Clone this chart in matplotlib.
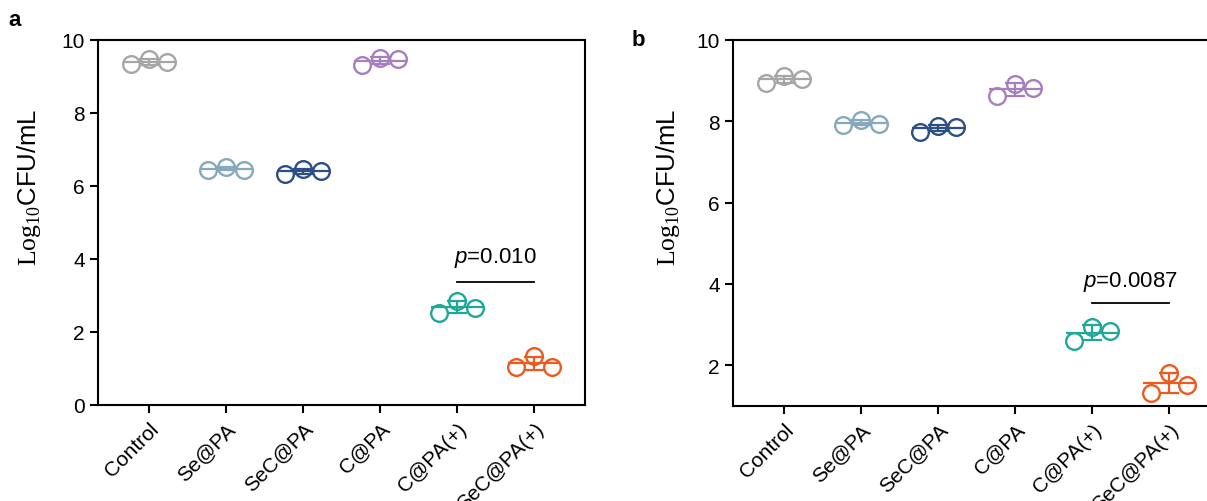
import numpy as np
import matplotlib
matplotlib.use("Agg")
from matplotlib import pyplot as plt
from matplotlib import transforms

plt.rcParams["font.family"] = ["Liberation Sans", "DejaVu Sans"]
plt.rcParams["mathtext.fontset"] = "custom"
plt.rcParams["mathtext.rm"] = "Liberation Serif"
plt.rcParams["mathtext.it"] = "Liberation Sans:italic"

groups = ["Control", "Se@PA", "SeC@PA", "C@PA", "C@PA(+)", "SeC@PA(+)"]
colors = ["#a6a6a6", "#86a9bb", "#2c4f85", "#a67fbf", "#1fa79a", "#ee5a1e"]

# replicate values (Log10 CFU/mL), three per group
panel_a = [
    [9.33, 9.48, 9.40],
    [6.45, 6.52, 6.45],
    [6.33, 6.47, 6.41],
    [9.32, 9.51, 9.48],
    [2.52, 2.85, 2.66],
    [1.04, 1.34, 1.04],
]
panel_b = [
    [8.94, 9.12, 9.04],
    [7.91, 8.03, 7.94],
    [7.74, 7.89, 7.86],
    [8.62, 8.92, 8.82],
    [2.60, 2.95, 2.85],
    [1.33, 1.82, 1.52],
]
p_a = "0.010"
p_b = "0.0087"

jitter = np.array([-0.23, 0.0, 0.23])


def draw_panel(fig, ax, data, ylim, yticks, p_text, bar_y, text_y, label_x):
    for i, (vals, c) in enumerate(zip(data, colors)):
        vals = np.array(vals)
        ax.plot(i + jitter, vals, "o", ms=12, mfc="none", mec=c, mew=1.7,
                clip_on=False, zorder=3)
        m = vals.mean()
        sd = vals.std(ddof=1)
        ax.hlines(m, i - 0.34, i + 0.34, color=c, lw=1.6, zorder=2)
        ax.errorbar(i, m, yerr=sd, color=c, lw=1.6, capsize=7, capthick=1.6,
                    zorder=2)
    ax.plot([4, 5], [bar_y, bar_y], color="black", lw=1.3)
    ax.text(4.5, text_y, "$p$=" + p_text, ha="center", va="center",
            fontsize=16)
    ax.set_xlim(-0.66, 5.66)
    ax.set_ylim(*ylim)
    ax.set_yticks(yticks)
    ax.set_xticks(range(len(groups)))
    ax.set_xticklabels(groups, rotation=45, ha="right",
                       rotation_mode="anchor", fontsize=15)
    shift = transforms.ScaledTranslation(6 / 72, 4 / 72, fig.dpi_scale_trans)
    for lab in ax.get_xticklabels():
        lab.set_transform(lab.get_transform() + shift)
    ax.tick_params(axis="y", labelsize=15, length=6, width=1.5,
                   direction="out")
    ax.tick_params(axis="x", length=6, width=1.5, direction="out", pad=4)
    for s in ax.spines.values():
        s.set_linewidth(1.5)
    ax.set_ylabel(r"$\mathrm{Log}_{\mathrm{10}}$CFU/mL", fontsize=18.5)
    ax.yaxis.set_label_coords(label_x, 0.60)


fig = plt.figure(figsize=(12.07, 5.02), dpi=100)
W, H = 1207, 502
ax_a = fig.add_axes([98 / W, (H - 406) / H, 487 / W, 365 / H])
ax_b = fig.add_axes([733 / W, (H - 407) / H, 487 / W, 366 / H])

draw_panel(fig, ax_a, panel_a, (0, 10), [0, 2, 4, 6, 8, 10], p_a, 3.37, 4.06,
           -0.112)
draw_panel(fig, ax_b, panel_b, (1, 10), [2, 4, 6, 8, 10], p_b, 3.54, 4.08,
           -0.105)

fig.text(8 / W, 1 - 20 / H, "a", fontsize=16, fontweight="bold",
         va="center")
fig.text(632 / W, 1 - 40 / H, "b", fontsize=16, fontweight="bold",
         va="center")

fig.savefig("out.png", dpi=100)
